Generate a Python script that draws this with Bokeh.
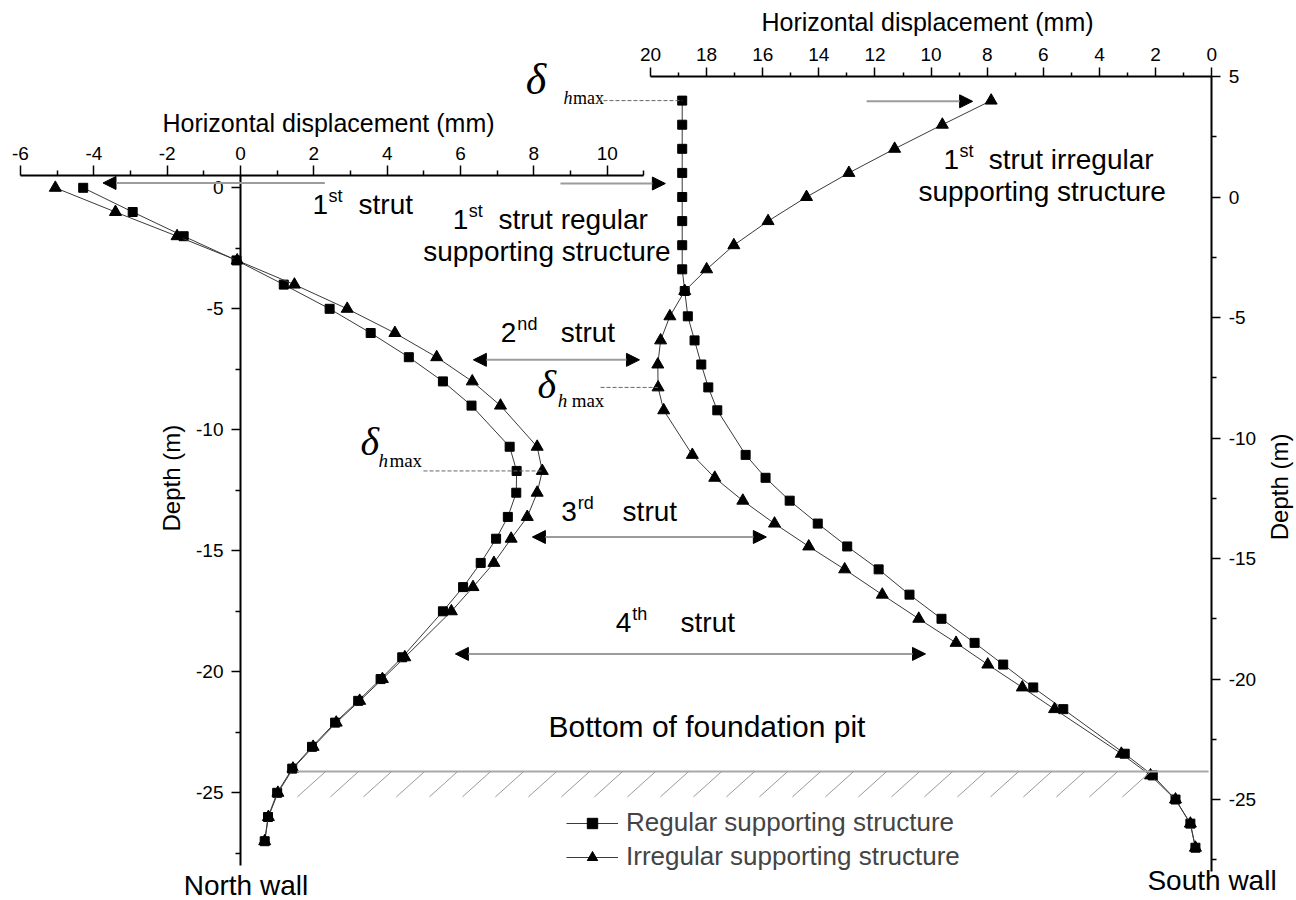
import numpy as np
from bokeh.plotting import figure
from bokeh.models import (Range1d, LinearAxis, FixedTicker, Arrow, NormalHead, Legend, LegendItem,
                          CustomJSTickFormatter)
from bokeh.core.properties import value
from bokeh.embed import file_html
from bokeh.resources import INLINE

# ---------------- data ----------------
# North wall (left panel)
north_depth = [0, -1, -2, -3, -4, -5, -6, -7, -8, -9, -10.7, -11.7, -12.6, -13.6, -14.5,
               -15.5, -16.5, -17.5, -19.4, -20.3, -21.2, -22.1, -23.1, -24.0, -25.0, -26.0, -27.0]
north_regular = [-4.29, -2.94, -1.55, -0.11, 1.18, 2.43, 3.55, 4.59, 5.52, 6.30, 7.34, 7.53, 7.52, 7.29, 6.97,
                 6.55, 6.07, 5.52, 4.41, 3.82, 3.21, 2.58, 1.95, 1.41, 1.00, 0.75, 0.66]
north_irregular = [-5.05, -3.41, -1.73, -0.09, 1.47, 2.91, 4.21, 5.35, 6.32, 7.09, 8.09, 8.23, 8.09, 7.82, 7.38,
                   6.91, 6.34, 5.75, 4.48, 3.87, 3.25, 2.61, 1.98, 1.43, 1.02, 0.76, 0.66]
# South wall (right panel)
south_depth = [4, 3, 2, 1, 0, -1, -2, -3, -3.9, -4.95, -5.95, -6.95, -7.9, -8.85, -10.7, -11.65, -12.6,
               -13.55, -14.5, -15.45, -16.5, -17.5, -18.5, -19.4, -20.35, -21.25, -23.1, -24.0, -25.0, -26.0, -27.0]
south_regular = [18.87, 18.87, 18.87, 18.87, 18.87, 18.87, 18.87, 18.87, 18.78, 18.67, 18.43, 18.19, 17.94, 17.62,
                 16.61, 15.90, 15.04, 14.04, 12.99, 11.87, 10.77, 9.63, 8.45, 7.43, 6.36, 5.29, 3.10, 2.10, 1.29, 0.76, 0.58]
south_irregular = [7.86, 9.60, 11.30, 12.93, 14.44, 15.81, 17.03, 18.00, 18.78, 19.31, 19.64, 19.74, 19.73, 19.53,
                   18.51, 17.71, 16.71, 15.58, 14.36, 13.08, 11.74, 10.44, 9.11, 7.98, 6.75, 5.60, 3.22, 2.18, 1.29, 0.76, 0.58]

left_x_ticks = [-6, -4, -2, 0, 2, 4, 6, 8, 10]
right_x_ticks = [20, 18, 16, 14, 12, 10, 8, 6, 4, 2, 0]
left_y_ticks = [0, -5, -10, -15, -20, -25]
right_y_ticks = [5, 0, -5, -10, -15, -20, -25]
ground_depth = -24.12

# ---------------- figure ----------------
p = figure(width=1296, height=900, output_backend="svg", toolbar_location=None,
           x_range=Range1d(43.165, -3.022), y_range=Range1d(-29.19, 8.154),
           x_axis_location=None, y_axis_location=None, min_border=0,
           outline_line_color=None, background_fill_color="white", border_fill_color="white")
p.grid.visible = False
p.extra_x_ranges = {"lx": Range1d(-6.545, 28.797)}
p.extra_y_ranges = {"ly": Range1d(-29.45, 7.74)}
L = dict(x_range_name="lx", y_range_name="ly")

FONT = "Liberation Sans"


def style_axis(ax, out_major, out_minor, standoff):
    ax.formatter = CustomJSTickFormatter(code="return String(tick);")
    ax.axis_line_width = 2
    ax.axis_line_color = "black"
    ax.major_tick_line_width = 1.5
    ax.minor_tick_line_width = 1.5
    ax.major_tick_line_color = "black"
    ax.minor_tick_line_color = "black"
    ax.major_tick_in = 0
    ax.minor_tick_in = 0
    ax.major_tick_out = out_major
    ax.minor_tick_out = out_minor
    ax.major_label_text_font = FONT
    ax.major_label_text_font_size = "19px"
    ax.major_label_text_color = "black"
    ax.major_label_standoff = standoff
    ax.axis_label_text_font = FONT
    ax.axis_label_text_font_style = "normal"
    ax.axis_label_text_font_size = "25px"
    ax.axis_label_text_color = "black"


# right (south) top axis
ax_rt = LinearAxis(fixed_location=5, bounds=(0, 20),
                   ticker=FixedTicker(ticks=right_x_ticks, minor_ticks=list(range(1, 20, 2))),
                   axis_label="Horizontal displacement  (mm)")
style_axis(ax_rt, 9, 4, 7)
ax_rt.axis_label_standoff = 9
p.add_layout(ax_rt, "above")

# right (south) depth axis
ax_ry = LinearAxis(fixed_location=0, bounds=(-28.0, 5),
                   ticker=FixedTicker(ticks=right_y_ticks, minor_ticks=[2.5 - 5 * i for i in range(7)]))
style_axis(ax_ry, 9, 5, 8)
p.add_layout(ax_ry, "right")

# left (north) top axis
ax_lt = LinearAxis(fixed_location=0.5, bounds=(-6, 11), **L,
                   ticker=FixedTicker(ticks=left_x_ticks, minor_ticks=list(range(-5, 12, 2))),
                   axis_label="Horizontal displacement  (mm)")
style_axis(ax_lt, 10, 5, 6)
ax_lt.axis_label_standoff = 7
p.add_layout(ax_lt, "above")

# left (north) depth axis
ax_ly = LinearAxis(fixed_location=0, bounds=(-28.0, 0.5), **L,
                   ticker=FixedTicker(ticks=left_y_ticks, minor_ticks=[-2.5 - 5 * i for i in range(6)]))
style_axis(ax_ly, 9, 5, 8)
p.add_layout(ax_ly, "left")

# ---------------- series ----------------
LINE_C = "#3a3a3a"
nr_l = p.line(north_regular, north_depth, line_color=LINE_C, line_width=1, **L)
nr_s = p.scatter(north_regular, north_depth, marker="square", size=9, color="black", **L)
ni_l = p.line(north_irregular, north_depth, line_color=LINE_C, line_width=1, **L)
ni_s = p.scatter(north_irregular, north_depth, marker="triangle", size=12, color="black", **L)
sr_l = p.line(south_regular, south_depth, line_color=LINE_C, line_width=1)
sr_s = p.scatter(south_regular, south_depth, marker="square", size=9, color="black")
si_l = p.line(south_irregular, south_depth, line_color=LINE_C, line_width=1)
si_s = p.scatter(south_irregular, south_depth, marker="triangle", size=12, color="black")

# ---------------- ground (bottom of pit) ----------------
p.line([1.55, 26.4], [ground_depth, ground_depth], line_color="#a8a8a8", line_width=2, **L)
hx0 = np.arange(1.55, 24.7, 0.9)
p.segment(x0=hx0, y0=np.full(len(hx0), ground_depth - 1.05), x1=hx0 + 0.77,
          y1=np.full(len(hx0), ground_depth), line_color="#9a9a9a", line_width=1, **L)

# ---------------- annotations ----------------
def txt(x, y, s, size, font=FONT, style="normal", rng=None, align="left", baseline="alphabetic", angle=0):
    kw = dict(L) if rng == "left" else {}
    px = float(size.replace("px", ""))
    yoff = 0 if angle else -0.4 * px
    p.text(x=[x], y=[y], text=[s], text_font=value(font), text_font_size=value(size),
           text_font_style=style, text_color="black", text_align=align, text_baseline=baseline,
           angle=angle, y_offset=yoff, **kw)


ANN = "28px"
SUP = "18px"
# left panel strut labels
txt(1.96, -1.14, "1", ANN, rng="left"); txt(2.40, -0.62, "st", SUP, rng="left"); txt(3.22, -1.14, "strut", ANN, rng="left")
txt(7.10, -6.43, "2", ANN, rng="left"); txt(7.55, -5.94, "nd", SUP, rng="left"); txt(8.73, -6.43, "strut", ANN, rng="left")
txt(8.75, -13.83, "3", ANN, rng="left"); txt(9.20, -13.33, "rd", SUP, rng="left"); txt(10.42, -13.83, "strut", ANN, rng="left")
txt(10.23, -18.42, "4", ANN, rng="left"); txt(10.68, -17.92, "th", SUP, rng="left"); txt(12.0, -18.42, "strut", ANN, rng="left")
txt(8.40, -22.76, "Bottom of foundation pit", "30px", rng="left")
txt(-1.55, -29.28, "North wall", "28px", rng="left")
txt(-1.88, -12.0, "Depth (m)", "24px", rng="left", align="center", baseline="middle", angle=np.pi / 2)

# right panel labels
txt(27.05, -1.39, "1", ANN); txt(26.48, -0.89, "st", SUP); txt(25.42, -1.39, "strut regular", ANN)
txt(28.10, -2.71, "supporting structure", ANN)
txt(9.56, 1.10, "1", ANN); txt(8.99, 1.59, "st", SUP); txt(7.95, 1.10, "strut irregular", ANN)
txt(10.45, -0.23, "supporting structure", ANN)
txt(2.29, -28.84, "South wall", "28px")
txt(-2.40, -12.03, "Depth (m)", "24px", align="center", baseline="middle", angle=np.pi / 2)

# delta_hmax labels
SERIF = "Liberation Serif"
txt(24.45, 4.16, "δ", "44px", font=SERIF, style="italic")
txt(23.10, 3.83, "h", "18px", font=SERIF, style="italic"); txt(22.76, 3.83, "max", "18px", font=SERIF)
txt(24.03, -8.43, "δ", "40px", font=SERIF, style="italic")
txt(23.31, -8.76, "h", "19px", font=SERIF, style="italic"); txt(22.81, -8.76, "max", "19px", font=SERIF)
txt(3.27, -11.14, "δ", "40px", font=SERIF, style="italic", rng="left")
txt(3.76, -11.60, "h", "19px", font=SERIF, style="italic", rng="left"); txt(4.06, -11.60, "max", "19px", font=SERIF, rng="left")

DASH = dict(line_color="#666666", line_width=1, line_dash="4 2")
p.line([21.89, 18.87], [4.0, 4.0], **DASH)
p.line([21.78, 19.73], [-7.9, -7.9], **DASH)
p.line([4.99, 8.23], [-11.7, -11.7], **DASH, **L)

# arrows
def head():
    return NormalHead(size=13, fill_color="black", line_color="black", line_width=1)

ARW = dict(line_color="#9c9c9c", line_width=2)
p.add_layout(Arrow(x_start=2.3, y_start=0.2, x_end=-3.75, y_end=0.2, end=head(), **ARW, **L))
p.add_layout(Arrow(x_start=23.21, y_start=0.56, x_end=19.47, y_end=0.56, end=head(), **ARW))
p.add_layout(Arrow(x_start=12.30, y_start=3.97, x_end=8.52, y_end=3.97, end=head(), **ARW))
p.add_layout(Arrow(x_start=6.35, y_start=-7.11, x_end=10.88, y_end=-7.11, start=head(), end=head(), **ARW, **L))
p.add_layout(Arrow(x_start=7.96, y_start=-14.43, x_end=14.34, y_end=-14.43, start=head(), end=head(), **ARW, **L))
p.add_layout(Arrow(x_start=5.86, y_start=-19.26, x_end=18.68, y_end=-19.26, start=head(), end=head(), **ARW, **L))

# legend
legend = Legend(items=[LegendItem(label="Regular supporting structure", renderers=[nr_l, nr_s]),
                       LegendItem(label="Irregular supporting structure", renderers=[ni_l, ni_s])],
                location=(566, 28), label_text_font=FONT, label_text_font_size="26px",
                glyph_width=52, glyph_height=26, label_height=26, label_standoff=8, spacing=3,
                padding=0, margin=0, border_line_alpha=0, background_fill_alpha=0)
p.add_layout(legend)

open("out.html", "w").write(file_html(p, INLINE))
